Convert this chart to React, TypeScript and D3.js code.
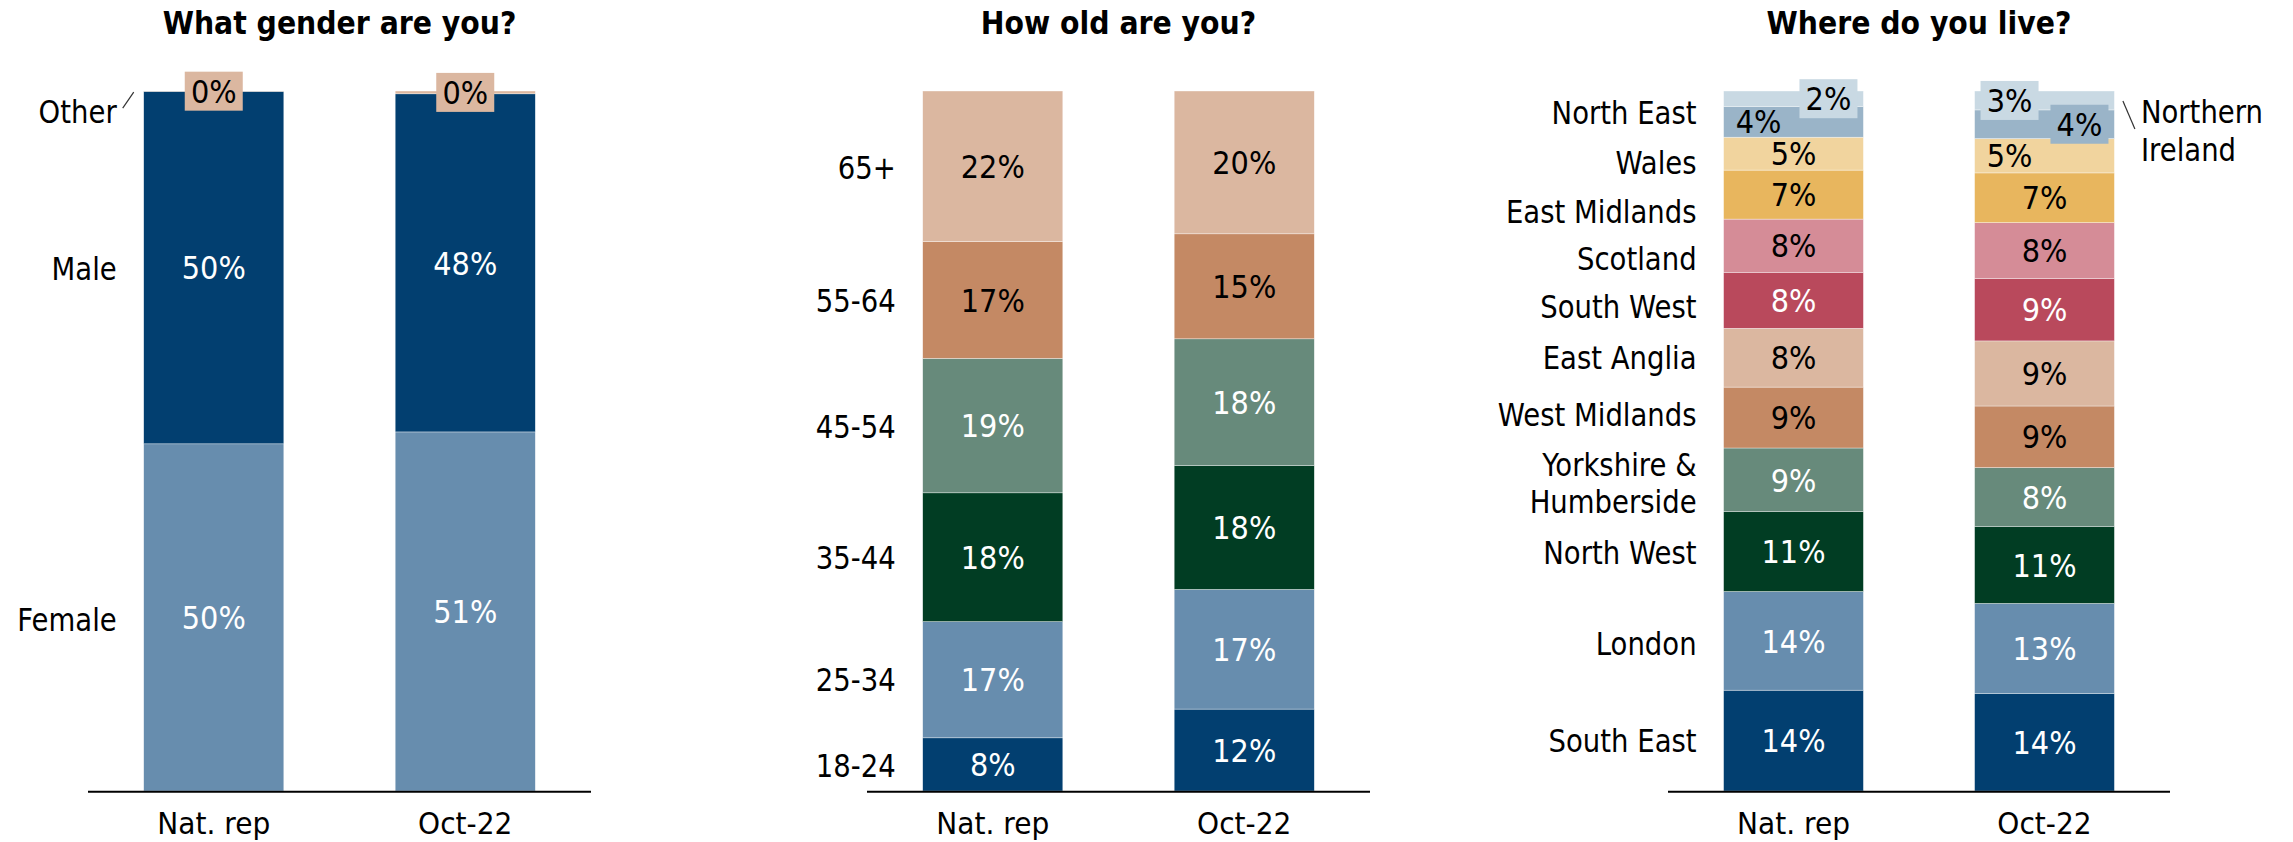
import React from 'react';
import * as d3 from 'd3';

// ---------- data ----------
const categories = ['Nat. rep', 'Oct-22'];

const genderSeries = ['Female', 'Male', 'Other'];
const genderNatRep = [49.6, 50.35, 0.05];
const genderOct22 = [51.3, 48.3, 0.4];

const ageSeries = ['18-24', '25-34', '35-44', '45-54', '55-64', '65+'];
const ageNatRep = [7.6, 16.6, 18.4, 19.2, 16.7, 21.5];
const ageOct22 = [11.7, 17.1, 17.7, 18.1, 15.0, 20.4];

const regionSeries = [
  'South East', 'London', 'North West', 'Yorkshire & Humberside', 'West Midlands',
  'East Anglia', 'South West', 'Scotland', 'East Midlands', 'Wales', 'North East', 'Northern Ireland',
];
const regionNatRep = [14.4, 14.1, 11.4, 9.1, 8.7, 8.4, 8.0, 7.6, 7.0, 4.7, 4.4, 2.2];
const regionOct22 = [13.9, 12.9, 11.0, 8.4, 8.8, 9.3, 8.9, 8.0, 7.1, 4.9, 4.1, 2.7];

const titles = ['What gender are you?', 'How old are you?', 'Where do you live?'];

// ---------- styles ----------
const NAVY = '#023F70', STEEL = '#678DAE', DKGREEN = '#013D23', SAGE = '#678A7B', BROWN = '#C48964',
  TAN = '#DBB7A0', RED = '#B9495C', PINK = '#D58C97', ORANGE = '#E8B65E', LTYELLOW = '#F1D49E',
  MIDGREY = '#9AB4C8', LTGREY = '#C9D9E3';

const W = 2293, H = 842;
const TOP = 91, BASE = 791;
const FONT = 'DejaVu Sans, Verdana, sans-serif';
const VAL_F = 32, VAL_SX = 0.9;
const CAT_F = 32, CAT_SX = 0.86;
const CAP = 0.729;

type PanelDef = {
  title: string;
  series: string[];
  values: number[][];
  colors: string[];
  textColors: string[];
  range: [number, number];
  labelNudge: number[];
  dx: number[][];
  boxed: string[];
  rightLabel?: { series: string; lines: string[] };
  leftSlash?: string;
};

const W_ = '#fff', B_ = '#000';

const panels: PanelDef[] = [
  {
    title: titles[0],
    series: genderSeries,
    values: [genderNatRep, genderOct22],
    colors: [STEEL, NAVY, TAN],
    textColors: [W_, W_, B_],
    range: [88, 591],
    labelNudge: [2, 1, 20],
    dx: [[0, 0, 0], [0, 0, 0]],
    boxed: ['0:2', '1:2'],
    leftSlash: 'Other',
  },
  {
    title: titles[1],
    series: ageSeries,
    values: [ageNatRep, ageOct22],
    colors: [NAVY, STEEL, DKGREEN, SAGE, BROWN, TAN],
    textColors: [W_, W_, W_, W_, B_, B_],
    range: [867, 1370],
    labelNudge: [1, 0, 0, 1, 0, 1],
    dx: [[0, 0, 0, 0, 0, 0], [0, 0, 0, 0, 0, 0]],
    boxed: [],
  },
  {
    title: titles[2],
    series: regionSeries,
    values: [regionNatRep, regionOct22],
    colors: [NAVY, STEEL, DKGREEN, SAGE, BROWN, TAN, RED, PINK, ORANGE, LTYELLOW, MIDGREY, LTGREY],
    textColors: [W_, W_, W_, W_, B_, B_, W_, B_, B_, B_, B_, B_],
    range: [1668, 2170],
    labelNudge: [0, 2, 1, 3, -3, 0, 6.5, 13, 16.5, 8.5, -9, 0],
    dx: [
      [0, 0, 0, 0, 0, 0, 0, 0, 0, 0, -0.25, 0.25],
      [0, 0, 0, 0, 0, 0, 0, 0, 0, -0.25, 0.25, -0.25],
    ],
    boxed: ['0:11', '1:11', '1:10'],
    rightLabel: { series: 'Northern Ireland', lines: ['Northern', 'Ireland'] },
  },
];

function T(props: {
  x: number; y: number; size: number; sx?: number; anchor?: string; fill?: string; weight?: string | number; children: any;
}) {
  const { x, y, size, sx = 1, anchor = 'middle', fill = '#000', weight = 'normal', children } = props;
  return (
    <text
      transform={`translate(${x},${y}) scale(${sx},1)`}
      textAnchor={anchor}
      fontSize={size}
      fontFamily={FONT}
      fontWeight={weight}
      fill={fill}
    >
      {children}
    </text>
  );
}

function Panel({ p }: { p: PanelDef }) {
  const x = d3.scaleBand<string>().domain(categories).range(p.range).paddingInner(0.443).paddingOuter(0.2215);
  const y = d3.scaleLinear().domain([0, 100]).range([BASE, TOP]);
  const bw = x.bandwidth();
  const rows = categories.map((c, i) => {
    const r: any = { cat: c };
    p.series.forEach((s, j) => (r[s] = p.values[i][j]));
    return r;
  });
  const stacked = d3.stack<any>().keys(p.series)(rows);
  const center = (p.range[0] + p.range[1]) / 2;
  const labelRight = (x(categories[0]) as number) - 27;
  const capHalf = (CAP * VAL_F) / 2;

  const rects: any[] = [];
  const labels: any[] = [];
  stacked.forEach((layer, j) => {
    layer.forEach((d, i) => {
      const bx = x(categories[i]) as number;
      const y1 = y(d[1]), y0 = y(d[0]);
      rects.push(
        <rect key={`r${i}-${j}`} x={bx} y={y1} width={bw} height={Math.max(0, y0 - y1)}
          fill={p.colors[j]} stroke="rgba(255,255,255,0.6)" strokeWidth={0.6} />
      );
      const cx = bx + bw / 2 + p.dx[i][j] * bw;
      const cy = (y0 + y1) / 2;
      const boxed = p.boxed.includes(`${i}:${j}`);
      labels.push(
        <g key={`l${i}-${j}`}>
          {boxed && <rect x={cx - 29} y={cy - 19.5} width={58} height={39} fill={p.colors[j]} />}
          <T x={cx} y={cy + capHalf} size={VAL_F} sx={VAL_SX} fill={p.textColors[j]}>
            {Math.round(p.values[i][j]) + '%'}
          </T>
        </g>
      );
    });
  });

  const catLabels: any[] = [];
  const catCap = (CAP * CAT_F) / 2;
  stacked.forEach((layer, j) => {
    const name = p.series[j];
    if (p.rightLabel && p.rightLabel.series === name) return;
    const d = layer[0];
    const cy = (y(d[0]) + y(d[1])) / 2 + p.labelNudge[j];
    const lines = name.replace('& ', '&\n').split('\n');
    const lh = 37;
    const startY = cy - ((lines.length - 1) * lh) / 2 + catCap;
    lines.forEach((ln, k) =>
      catLabels.push(
        <T key={`c${j}-${k}`} x={labelRight} y={startY + k * lh} size={CAT_F} sx={CAT_SX} anchor="end">
          {ln}
        </T>
      )
    );
    if (p.leftSlash === name) {
      catLabels.push(
        <line key={`s${j}`} x1={labelRight + 6} y1={cy - 3} x2={labelRight + 17} y2={cy - 19} stroke="#333" strokeWidth={1.2} />
      );
    }
  });

  let right: any = null;
  if (p.rightLabel) {
    const lx = (x(categories[1]) as number) + bw + 26.5;
    const firstBase = y(100) + 32;
    right = (
      <g>
        <line x1={lx - 18} y1={firstBase - 22} x2={lx - 6} y2={firstBase + 6} stroke="#333" strokeWidth={1.2} />
        {p.rightLabel.lines.map((ln, k) => (
          <T key={k} x={lx} y={firstBase + k * 38} size={CAT_F} sx={CAT_SX} anchor="start">{ln}</T>
        ))}
      </g>
    );
  }

  return (
    <g>
      <T x={center} y={34} size={31.5} sx={0.9} weight="bold">{p.title}</T>
      {rects}
      {labels}
      {catLabels}
      {right}
      <line x1={p.range[0]} x2={p.range[1]} y1={BASE + 0.8} y2={BASE + 0.8} stroke="#000" strokeWidth={2} />
      {categories.map((c) => (
        <T key={c} x={(x(c) as number) + bw / 2} y={834} size={30.5} sx={0.92}>{c}</T>
      ))}
    </g>
  );
}

export default function App() {
  return (
    <svg width={W} height={H} viewBox={`0 0 ${W} ${H}`}
      style={{ position: 'absolute', left: 0, top: 0, display: 'block', background: '#fff' }}>
      <rect x={0} y={0} width={W} height={H} fill="#fff" />
      {panels.map((p, i) => <Panel key={i} p={p} />)}
    </svg>
  );
}
